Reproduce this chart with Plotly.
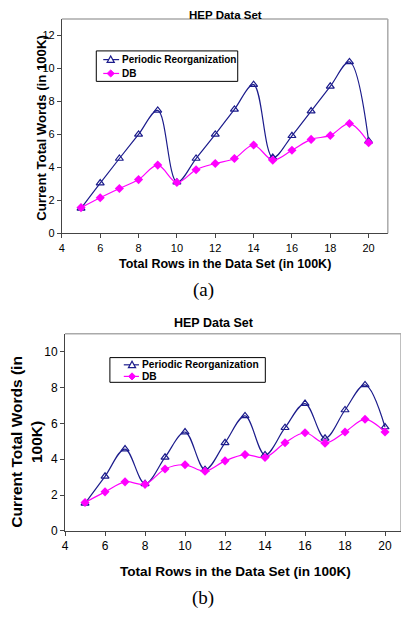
import plotly.graph_objects as go

W, H = 401, 618

rows = list(range(5, 21))

# (a)
periodic_a = [1.52, 3.05, 4.54, 6.0, 7.46, 3.1, 4.54, 6.0, 7.52, 9.02, 4.6, 5.92, 7.42, 8.92, 10.4, 5.6]
db_a = [1.56, 2.16, 2.72, 3.26, 4.14, 3.08, 3.86, 4.24, 4.54, 5.36, 4.44, 5.04, 5.7, 5.94, 6.66, 5.5]

# (b)
periodic_b = [1.54, 3.05, 4.57, 2.63, 4.11, 5.52, 3.42, 4.92, 6.42, 4.24, 5.76, 7.11, 5.17, 6.75, 8.15, 5.8]
db_b = [1.59, 2.18, 2.74, 2.6, 3.46, 3.69, 3.33, 3.91, 4.26, 4.1, 4.92, 5.48, 4.9, 5.52, 6.23, 5.52]

series_names = ["Periodic Reorganization", "DB"]
title_text = "HEP Data Set"
xtitle = "Total Rows in the Data Set (in 100K)"
ytitle_a = "Current Total Words (in 100K)"
ytitle_b = "Current Total Words (in<br>100K)"

NAVY = "#1c1c8c"
MAG = "#ff00ff"
AX = "#444444"
FONT = "Liberation Sans, Arial, sans-serif"
SERIF = "Liberation Serif, Times New Roman, serif"


def px(x):
    return x / W


def py(y):
    return 1 - y / H


fig = go.Figure()


def add_pair(xa, ya, pvals, dvals):
    fig.add_trace(go.Scatter(
        x=rows, y=pvals, xaxis=xa, yaxis=ya, name=series_names[0], showlegend=False,
        mode="lines+markers", line=dict(color=NAVY, width=1.2, shape="spline", smoothing=1.0),
        marker=dict(symbol="triangle-up-open", size=7, color=NAVY, line=dict(width=1.2, color=NAVY)),
    ))
    fig.add_trace(go.Scatter(
        x=rows, y=dvals, xaxis=xa, yaxis=ya, name=series_names[1], showlegend=False,
        mode="lines+markers", line=dict(color=MAG, width=1.2, shape="spline", smoothing=1.0),
        marker=dict(symbol="diamond", size=7, color=MAG),
    ))


add_pair("x", "y", periodic_a, db_a)
add_pair("x2", "y2", periodic_b, db_b)


def axcommon(fs):
    return dict(showgrid=False, zeroline=False, showline=True, linecolor=AX, linewidth=1,
                ticks="outside", ticklen=4, tickcolor=AX,
                tickfont=dict(family=FONT, size=fs, color="#000"))


fig.update_layout(
    width=W, height=H, autosize=False,
    margin=dict(l=0, r=0, t=0, b=0),
    paper_bgcolor="white", plot_bgcolor="white",
    showlegend=False,
    xaxis=dict(domain=[px(59.3), px(387.7)], range=[4, 21], tickvals=list(range(4, 21, 2)),
               anchor="y", **axcommon(11)),
    yaxis=dict(domain=[py(236), py(19.3)], range=[0, 13], tickvals=list(range(0, 13, 2)),
               anchor="x", **axcommon(11)),
    xaxis2=dict(domain=[px(62.5), 1.0], range=[4, 4 + (401 - 62.5) / 20.15], tickvals=list(range(4, 21, 2)),
                anchor="y2", **axcommon(12)),
    yaxis2=dict(domain=[py(537), py(337.7)], range=[0, 11], tickvals=list(range(0, 11, 2)),
                anchor="x2", **axcommon(12)),
)

# gray top/right frame
for xr, yr in [("x domain", "y domain"), ("x2 domain", "y2 domain")]:
    fig.add_shape(type="line", xref=xr, yref=yr, x0=0, x1=1, y0=1, y1=1,
                  line=dict(color="#aaaaaa", width=1.5))
    fig.add_shape(type="line", xref=xr, yref=yr, x0=1, x1=1, y0=0, y1=1,
                  line=dict(color="#aaaaaa", width=1.5))


# custom legend boxes (pixel geometry converted to paper)
def legend_box(x0, y0, x1, y1, row1, row2, lx0, lx1, sym_x, text_x, fs):
    fig.add_shape(type="rect", xref="paper", yref="paper",
                  x0=px(x0), x1=px(x1), y0=py(y1), y1=py(y0),
                  line=dict(color="#000", width=1), fillcolor="white")
    for yy, col in [(row1, NAVY), (row2, MAG)]:
        fig.add_shape(type="line", xref="paper", yref="paper",
                      x0=px(lx0), x1=px(lx1), y0=py(yy), y1=py(yy),
                      line=dict(color=col, width=1.2))
    s = 3.6
    tri = "M {} {} L {} {} L {} {} Z".format(
        px(sym_x - s), py(row1 + s * 0.8), px(sym_x + s), py(row1 + s * 0.8), px(sym_x), py(row1 - s * 1.0))
    fig.add_shape(type="path", xref="paper", yref="paper", path=tri,
                  line=dict(color=NAVY, width=1.2), fillcolor="white")
    d = 3.6
    dia = "M {} {} L {} {} L {} {} L {} {} Z".format(
        px(sym_x - d), py(row2), px(sym_x), py(row2 - d), px(sym_x + d), py(row2), px(sym_x), py(row2 + d))
    fig.add_shape(type="path", xref="paper", yref="paper", path=dia,
                  line=dict(color=MAG, width=1), fillcolor=MAG)
    for yy, name in [(row1, series_names[0]), (row2, series_names[1])]:
        fig.add_annotation(text=name, xref="paper", yref="paper", x=px(text_x), y=py(yy),
                           xanchor="left", yanchor="middle", showarrow=False,
                           font=dict(family=FONT, size=fs, color="#000", weight="bold"))


legend_box(94, 51.5, 236.5, 82.3, 60.3, 74.3, 101, 117, 108.5, 118, 10)
legend_box(107.7, 361.7, 264.3, 386.7, 369, 380.7, 121.7, 137, 130, 138, 10.2)

bold = dict(family=FONT, color="#000", weight="bold")
ann = [
    dict(text=title_text, x=px(224), y=py(15), font=dict(size=11.5, **bold)),
    dict(text=title_text, x=px(213), y=py(326.7), font=dict(size=12.5, **bold)),
    dict(text=xtitle, x=px(224), y=py(267), font=dict(size=12.5, **bold)),
    dict(text=xtitle, x=px(234), y=py(578), font=dict(size=13.6, **bold)),
    dict(text=ytitle_a, x=px(38), y=py(129.5), textangle=-90, font=dict(size=13.2, **bold)),
    dict(text=ytitle_b, x=px(24), y=py(447), textangle=-90, font=dict(size=15.5, **bold)),
    dict(text="(a)", x=px(202), y=py(293), font=dict(size=19, family=SERIF, color="#000")),
    dict(text="(b)", x=px(202), y=py(605), font=dict(size=19, family=SERIF, color="#000")),
]
for a in ann:
    a.update(xref="paper", yref="paper", showarrow=False, xanchor="center", yanchor="middle")
    fig.add_annotation(**a)

fig.write_html("out.html", config={"displayModeBar": False},
               post_script="document.body.style.margin='0';document.body.style.overflow='hidden';")
